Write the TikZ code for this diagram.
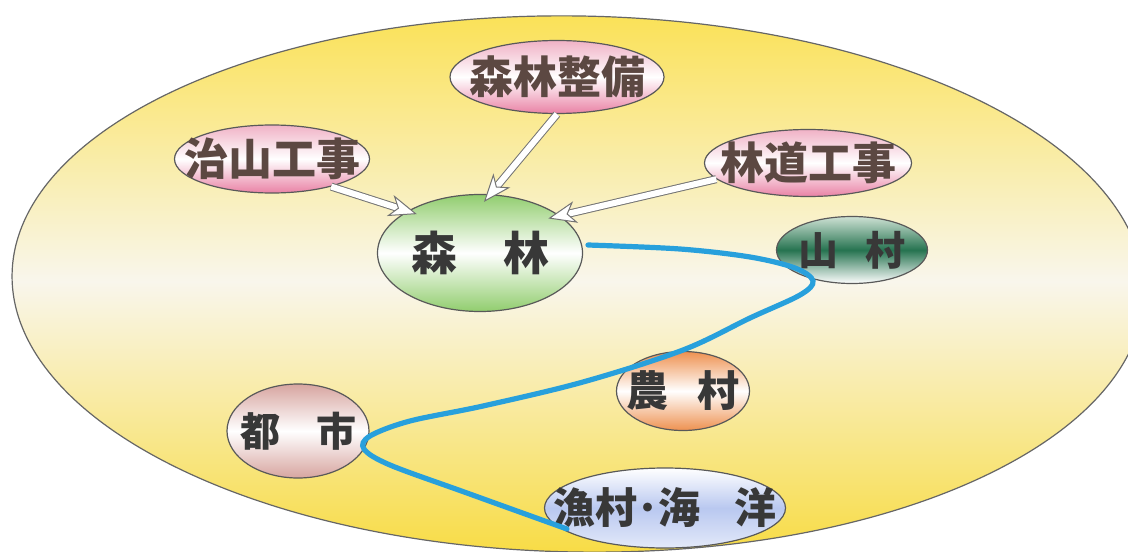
\documentclass[tikz,border=0pt]{standalone}
\usepackage{fontspec}
\newfontfamily\jp{Noto Sans CJK JP}
\usetikzlibrary{shapes.geometric,arrows.meta}
\definecolor{ylw}{RGB}{250,225,85}
\definecolor{ylwbot}{RGB}{248,220,70}
\definecolor{cream}{RGB}{249,246,236}
\definecolor{pinktop}{RGB}{240,178,198}
\definecolor{pinkbot}{RGB}{233,130,165}
\definecolor{txtbrown}{RGB}{92,72,66}
\definecolor{leaf}{RGB}{145,205,110}
\definecolor{pine}{RGB}{38,115,80}
\definecolor{pinetop}{RGB}{205,225,212}
\definecolor{carrot}{RGB}{238,145,80}
\definecolor{rose}{RGB}{215,165,160}
\definecolor{sea}{RGB}{185,200,240}
\definecolor{riverblue}{RGB}{40,160,220}

\begin{document}
\begin{tikzpicture}[x=0.5pt,y=0.5pt,
  blob/.style={ellipse,draw=black!65,line width=0.6pt,inner sep=0pt,text=black!78},
  works/.style={blob,top color=pinktop,bottom color=pinkbot,middle color=white,text=txtbrown,
    font=\jp\bfseries\fontsize{22pt}{22pt}\selectfont},
  hollow/.style={draw=black!55,line width=0.5pt,double=white,double distance=3pt,
    -{Stealth[open,fill=white,length=14pt,width=11pt,inset=4pt]}},
  river/.style={draw=riverblue,line width=2.6pt,line cap=round}]
\useasboundingbox (0,0) rectangle (1128,-551);
\fill[white] (0,0) rectangle (1128,-551);
\clip (0,0) rectangle (1128,-551);
% big field
\draw[draw=black!60,line width=0.6pt,top color=ylw,bottom color=ylwbot,middle color=cream,
  rotate around={-1:(578,-284)}] (578,-284) ellipse [x radius=566, y radius=268];
% works
\node[works,minimum width=107pt,minimum height=36.5pt] (seibi) at (557,-77) {\makebox[0pt]{森林整備}};
\node[works,minimum width=97.5pt,minimum height=34pt] (chisan) at (272,-159) {\makebox[0pt]{治山工事}};
\node[works,minimum width=103.5pt,minimum height=33.5pt] (rindo) at (808,-163) {\makebox[0pt]{林道工事}};
% forest and villages
\node[blob,minimum width=102.5pt,minimum height=58.5pt,top color=leaf,bottom color=leaf,middle color=white,
  font=\jp\bfseries\fontsize{23pt}{23pt}\selectfont] (shinrin) at (480,-253) {\makebox[0pt]{森　林}};
\node[blob,minimum width=75.5pt,minimum height=33.5pt,top color=pinetop,bottom color=white,middle color=pine,
  font=\jp\bfseries\fontsize{20pt}{20pt}\selectfont] (sanson) at (852,-250) {\makebox[0pt]{山\hspace{0.7em}村}};
\node[blob,minimum width=66.5pt,minimum height=39.5pt,top color=carrot,bottom color=carrot,middle color=white,
  font=\jp\bfseries\fontsize{21pt}{21pt}\selectfont] (noson) at (683,-391) {\makebox[0pt]{農\hspace{0.7em}村}};
\node[blob,minimum width=71pt,minimum height=47pt,top color=rose,bottom color=rose,middle color=white,
  font=\jp\bfseries\fontsize{20pt}{20pt}\selectfont] (toshi) at (298,-431) {\makebox[0pt]{都\hspace{0.9em}市}};
\node[blob,minimum width=120.5pt,minimum height=40pt,top color=white,bottom color=white!60!sea,middle color=sea,
  font=\jp\bfseries\fontsize{21pt}{21pt}\selectfont] (gyoson) at (665,-508) {\makebox[0pt]{漁村･海\hspace{0.8em}洋}};
% arrows into the forest
\draw[hollow,shorten >=-5pt] (chisan.-25) -- (shinrin.150);
\draw[hollow,shorten >=-5pt] (seibi.south) -- (shinrin.80);
\draw[hollow,shorten >=-6pt] (rindo.190) -- (shinrin.25);
% river
\draw[river] plot[smooth,tension=.55] coordinates {(588,-245) (680,-249) (750,-257) (795,-268)
  (813,-281) (800,-295) (750,-318) (683,-350) (583,-382) (483,-406) (410,-421) (370,-436)
  (364,-449) (390,-465) (467,-493) (567,-529)};
\end{tikzpicture}
\end{document}
